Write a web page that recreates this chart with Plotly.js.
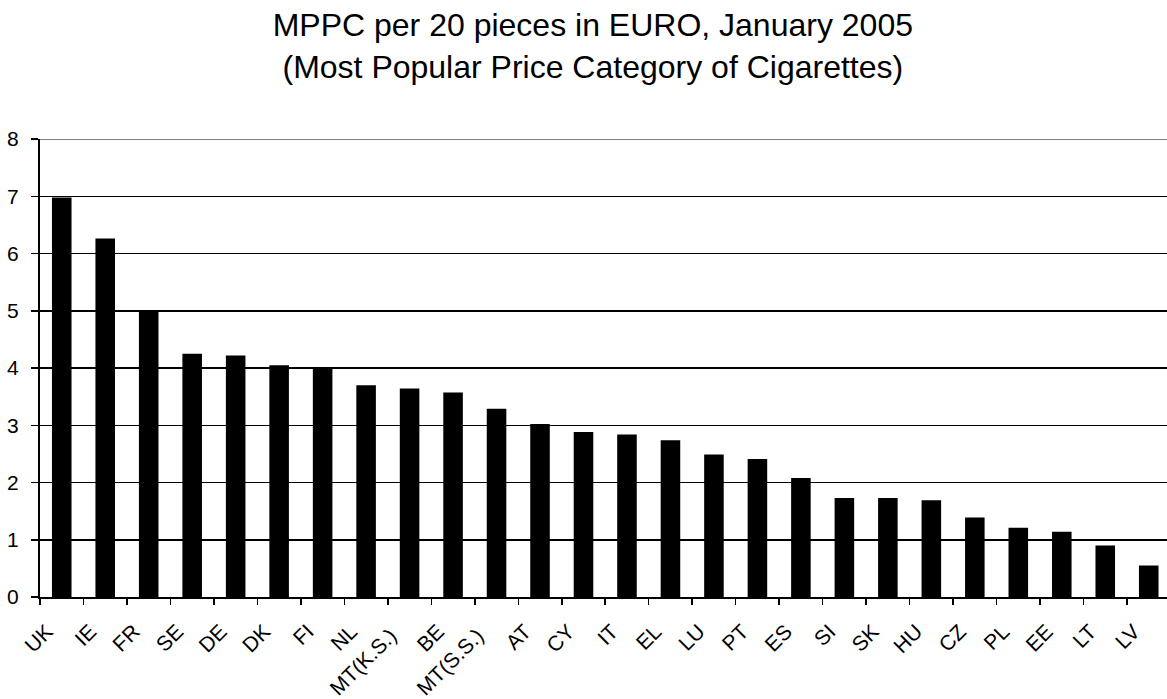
<!DOCTYPE html>
<html>
<head>
<meta charset="utf-8">
<script src="https://cdn.plot.ly/plotly-3.0.1.min.js"></script>
<style>
  html, body { margin: 0; padding: 0; background: #ffffff; }
  #chart { width: 1167px; height: 699px; }
</style>
</head>
<body>
<div id="chart"></div>
<script>
// ---- data ----
const categories = ["UK", "IE", "FR", "SE", "DE", "DK", "FI", "NL", "MT(K.S.)", "BE", "MT(S.S.)",
  "AT", "CY", "IT", "EL", "LU", "PT", "ES", "SI", "SK", "HU", "CZ", "PL", "EE", "LT", "LV"];
const mppcEuro = [6.98, 6.26, 5.00, 4.25, 4.22, 4.05, 4.00, 3.70, 3.64, 3.57, 3.29,
  3.02, 2.88, 2.84, 2.74, 2.49, 2.41, 2.08, 1.73, 1.73, 1.69, 1.39, 1.21, 1.14, 0.90, 0.55];
const yTicks = [0, 1, 2, 3, 4, 5, 6, 7, 8];
const titleLines = ["MPPC per 20 pieces in EURO, January 2005", "(Most Popular Price Category of Cigarettes)"];

// ---- chart ----
const Y_MAX = yTicks[yTicks.length - 1];
const FONT = "Liberation Sans, Arial, sans-serif";
// the two Malta labels sit a little lower in the original
const tickText = categories.map(c => c.indexOf("MT") === 0 ? c + "\u00a0" : c);

const trace = {
  type: "bar",
  x: categories,
  y: mppcEuro,
  marker: { color: "#000000", line: { width: 0 } },
  hoverinfo: "x+y"
};

const layout = {
  width: 1167,
  height: 699,
  paper_bgcolor: "#ffffff",
  plot_bgcolor: "#ffffff",
  font: { family: FONT, color: "#000000", size: 20 },
  margin: { l: 40, r: 0, t: 139, b: 102, pad: 0 },
  title: {
    text: titleLines.join("<br>"),
    font: { family: FONT, size: 32, color: "#000000" },
    x: 0.508, xanchor: "center", xref: "container",
    y: 1 - 36 / 699, yanchor: "top", yref: "container"
  },
  bargap: 0.55,
  showlegend: false,
  xaxis: {
    type: "category",
    range: [-0.5, 25.42],
    tickmode: "array",
    tickvals: categories,
    ticktext: tickText,
    tickangle: -45,
    tickson: "boundaries",
    ticks: "outside",
    ticklen: 6,
    tickwidth: 1.5,
    tickcolor: "#000000",
    ticklabelstandoff: 12,
    ticklabelshift: -15,
    showgrid: false,
    showline: true,
    linecolor: "#000000",
    linewidth: 2,
    tickfont: { family: FONT, size: 21, color: "#000000" },
    fixedrange: true
  },
  yaxis: {
    range: [0, Y_MAX],
    tickmode: "array",
    tickvals: yTicks,
    ticks: "outside",
    ticklen: 7,
    tickwidth: 1.5,
    tickcolor: "#000000",
    ticklabelstandoff: 8,
    showgrid: true,
    gridcolor: "#000000",
    gridwidth: 1.5,
    zeroline: false,
    showline: true,
    linecolor: "#000000",
    linewidth: 2,
    tickfont: { family: FONT, size: 21, color: "#000000" },
    fixedrange: true
  },
  shapes: [{
    type: "line", xref: "paper", yref: "y",
    x0: 0, x1: 1, y0: Y_MAX, y1: Y_MAX,
    line: { color: "#808080", width: 2 },
    layer: "above"
  }]
};

Plotly.newPlot("chart", [trace], layout, { staticPlot: true, displayModeBar: false });
</script>
</body>
</html>
